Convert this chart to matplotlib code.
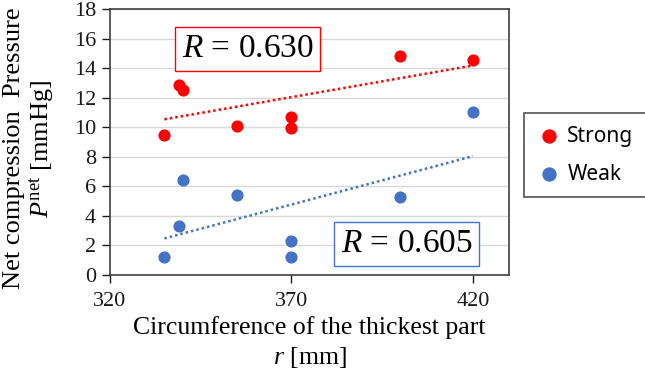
import numpy as np
import matplotlib
matplotlib.use('Agg')
import matplotlib.pyplot as plt

plt.rcParams['font.family'] = ['Liberation Serif', 'DejaVu Serif']
plt.rcParams['mathtext.fontset'] = 'custom'
plt.rcParams['mathtext.rm'] = 'Liberation Serif'
plt.rcParams['mathtext.it'] = 'Liberation Serif:italic'

# data
strong_x = [335, 339, 340, 355, 370, 370, 400, 420]
strong_y = [9.5, 12.85, 12.5, 10.1, 10.7, 9.95, 14.8, 14.55]
weak_x = [335, 339, 340, 355, 370, 370, 400, 420]
weak_y = [1.2, 3.3, 6.4, 5.4, 2.3, 1.2, 5.3, 11.0]
r_strong = 0.630
r_weak = 0.605

red = '#ff0000'
blue = '#4472c4'

fig = plt.figure(figsize=(6.45, 3.72), dpi=100)
ax = fig.add_axes([0.1705, 0.2608, 0.619, 0.715])

ax.scatter(strong_x, strong_y, s=60, color=red, label='Strong', zorder=3)
ax.scatter(weak_x, weak_y, s=60, color=blue, label='Weak', zorder=3)

# linear trend lines
for xs, ys, c in [(strong_x, strong_y, red), (weak_x, weak_y, blue)]:
    k, b = np.polyfit(xs, ys, 1)
    xx = np.array([min(xs), max(xs)])
    ax.plot(xx, k * xx + b, linestyle=(0, (1, 1.2)), color=c, lw=1.8, zorder=2)

ax.set_xlim(320, 430)
ax.set_ylim(0, 18)
ax.set_xticks([320, 370, 420])
ax.set_yticks(range(0, 19, 2))
ax.grid(axis='y', color='#d9d9d9', lw=1)
ax.set_axisbelow(True)
for s in ax.spines.values():
    s.set_color('#404040')
    s.set_linewidth(1.2)
ax.tick_params(axis='both', labelsize=16, colors='#1a1a1a', length=6, width=1)
ax.tick_params(axis='x', pad=6)
ax.tick_params(axis='y', pad=4)

ax.set_xlabel('Circumference of the thickest part\n$r$ [mm]', fontsize=18.5,
              linespacing=1.3, labelpad=4)
ax.set_ylabel('Net compression  Pressure\n$P^{\\mathrm{net}}$ [mmHg]', fontsize=19,
              linespacing=1.1)
ax.yaxis.set_label_coords(-0.135, 0.475)

ax.text(0.18, 0.82, f'$R$ = {r_strong:.3f}', transform=ax.transAxes, fontsize=24,
        bbox=dict(boxstyle='square,pad=0.2', fc='white', ec=red, lw=1))
ax.text(0.578, 0.085, f'$R$ = {r_weak:.3f}', transform=ax.transAxes, fontsize=24,
        bbox=dict(boxstyle='square,pad=0.2', fc='white', ec=blue, lw=1))

leg = ax.legend(loc='center left', bbox_to_anchor=(1.01, 0.45), frameon=True,
                fancybox=False, edgecolor='#262626', prop={'family': 'Noto Sans', 'size': 15},
                handletextpad=0.3, borderpad=0.6, labelspacing=0.8, handlelength=1.2,
                markerscale=1.2)
leg.get_frame().set_linewidth(1.2)

fig.savefig('out.png', dpi=100)
